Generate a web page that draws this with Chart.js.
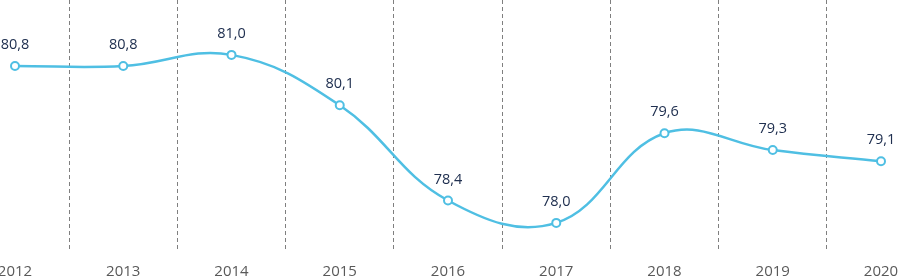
<!DOCTYPE html>
<html>
	<head>
		<title>Line chart</title>
		<script src="https://cdn.jsdelivr.net/npm/chart.js@4.4.0/dist/chart.umd.min.js"></script>
		<style>
			body { margin: 0; background: #fff; }
			#wrap { width: 899px; height: 279px; position: relative; }
		</style>
	</head>
	<body>
		<div id="wrap">
			<canvas id="myChart"></canvas>
		</div>
		<script>
			// dane
			const years = ['2012', '2013', '2014', '2015', '2016', '2017', '2018', '2019', '2020']
			const values = [80.8, 80.8, 81.0, 80.1, 78.4, 78.0, 79.6, 79.3, 79.1]

			// etykiety nad punktami
			const pointLabels = {
				id: 'pointLabels',
				afterDatasetsDraw (chart) {
					const ctx = chart.ctx
					const meta = chart.getDatasetMeta(0)
					ctx.save()
					ctx.font = '14.5px "Open Sans"'
					ctx.fillStyle = '#203050'
					ctx.textAlign = 'center'
					ctx.textBaseline = 'middle'
					meta.data.forEach((pt, i) => {
						ctx.fillText(values[i].toFixed(1).replace('.', ','), pt.x, pt.y - 21)
					})
					ctx.restore()
				}
			}

			const ctx = document.getElementById('myChart').getContext('2d')
			const chart = new Chart(ctx, {
				type: 'line',
				data: {
					labels: years,
					datasets: [{
						data: values,
						borderColor: '#4fbfe3',
						borderWidth: 2.5,
						tension: 0.4,
						pointRadius: 4,
						pointBorderWidth: 2,
						pointBackgroundColor: '#ffffff',
						pointBorderColor: '#4fbfe3',
						clip: false
					}]
				},
				options: {
					responsive: true,
					maintainAspectRatio: false,
					animation: false,
					layout: {
						autoPadding: false,
						padding: { left: 15, right: 18, top: 0, bottom: 0 }
					},
					plugins: {
						legend: { display: false },
						tooltip: { enabled: false }
					},
					scales: {
						x: {
							offset: false,
							grid: {
								offset: true,
								drawTicks: false,
								color: '#7f7f7f',
								lineWidth: 1
							},
							border: { display: false, dash: [4, 3] },
							ticks: {
								padding: 11,
								color: '#595959',
								font: { family: 'Open Sans', size: 15 },
								maxRotation: 0
							},
							afterFit (scale) {
								scale.height = 27
								scale.paddingLeft = 0
								scale.paddingRight = 0
							}
						},
						y: {
							display: false,
							min: 77.48,
							max: 81.98
						}
					}
				},
				plugins: [pointLabels]
			})
		</script>
	</body>
</html>
